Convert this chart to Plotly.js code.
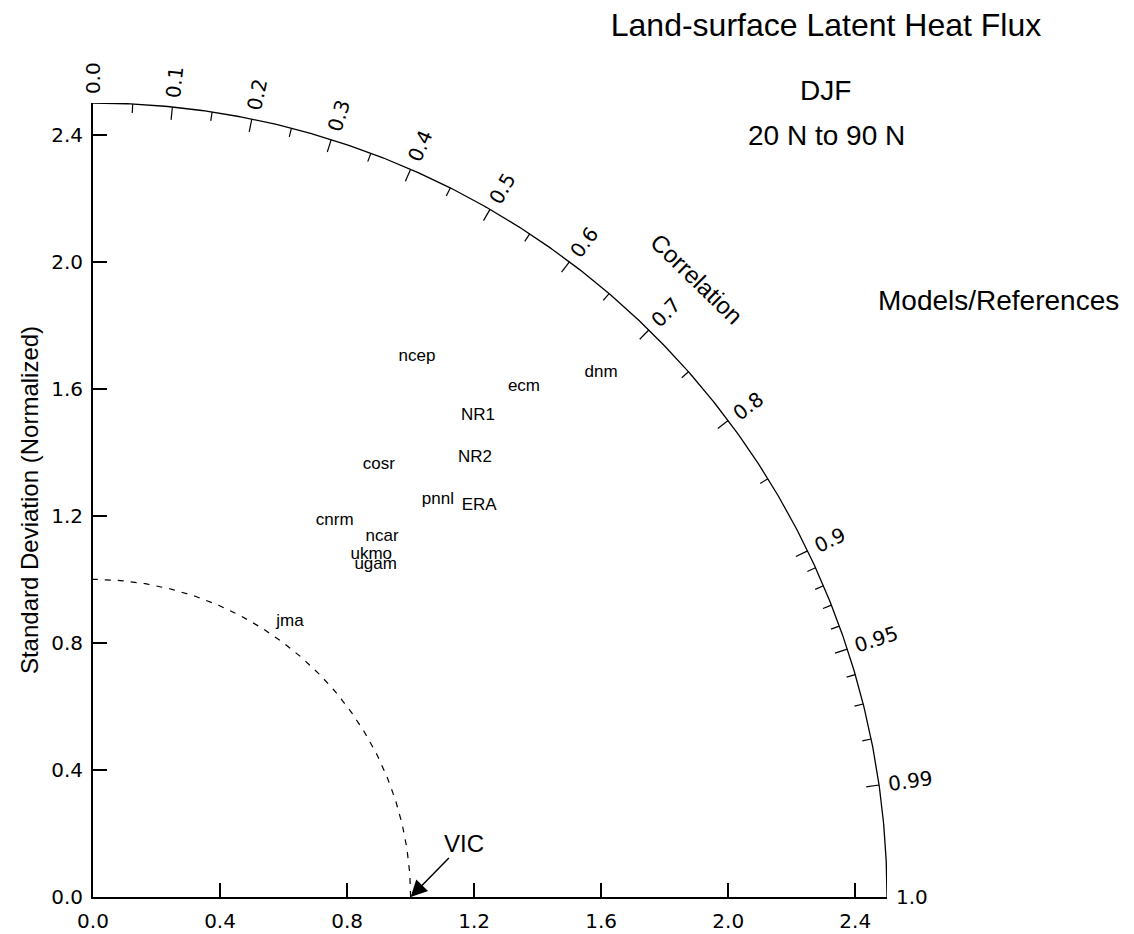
<!DOCTYPE html>
<html>
<head>
<meta charset="utf-8">
<script src="https://cdn.plot.ly/plotly-3.0.1.min.js"></script>
<style>html,body{margin:0;padding:0;background:#fff;}</style>
</head>
<body>
<div id="chart" style="width:1134px;height:934px;"></div>
<script>
// ---- data ----
const modelNames = ['ncep','dnm','ecm','NR1','NR2','cosr','pnnl','ERA','cnrm','ncar','ukmo','ugam','jma'];
const modelX     = [1.020, 1.600, 1.357, 1.212, 1.203, 0.900, 1.086, 1.216, 0.761, 0.910, 0.876, 0.890, 0.620];
const modelY     = [1.700, 1.650, 1.606, 1.515, 1.382, 1.360, 1.250, 1.231, 1.184, 1.134, 1.077, 1.046, 0.866];
const refName = 'VIC';
const refStd = 1.0;
const stdTickVals = [0.0, 0.4, 0.8, 1.2, 1.6, 2.0, 2.4];
const stdTickText = ['0.0','0.4','0.8','1.2','1.6','2.0','2.4'];
const corrLabelVals = [0.0,0.1,0.2,0.3,0.4,0.5,0.6,0.7,0.8,0.9,0.95,0.99,1.0];
const corrLabelText = ['0.0','0.1','0.2','0.3','0.4','0.5','0.6','0.7','0.8','0.9','0.95','0.99','1.0'];
const corrMajorTicks = [0.1,0.2,0.3,0.4,0.5,0.6,0.7,0.8,0.9,0.95,0.99];
const corrMinorTicks = [0.05,0.15,0.25,0.35,0.45,0.55,0.65,0.75,0.85,0.91,0.92,0.93,0.94,0.96,0.97,0.98];
const maxStd = 2.5;

// ---- geometry helpers ----
const L = 93, R = 247, T = 103, B = 37, W = 1134, H = 934;
const pxPerUnit = (W - L - R) / maxStd;
function arc(r, n) {
  const xs = [], ys = [];
  for (let i = 0; i <= n; i++) {
    const t = (Math.PI / 2) * i / n;
    xs.push(r * Math.cos(t)); ys.push(r * Math.sin(t));
  }
  return {x: xs, y: ys};
}
function ticks(vals, lenPx) {
  const xs = [], ys = [];
  const l = lenPx / pxPerUnit;
  vals.forEach(c => {
    const s = Math.sqrt(1 - c * c);
    xs.push(maxStd * c, (maxStd - l) * c, null);
    ys.push(maxStd * s, (maxStd - l) * s, null);
  });
  return {x: xs, y: ys};
}
const outer = arc(maxStd, 400);
const inner = arc(refStd, 200);
const majT = ticks(corrMajorTicks, 13);
const minT = ticks(corrMinorTicks, 9);

const numSize = 20;
const numFont = {family: 'DejaVu Sans', size: numSize, color: '#000'};
const textFamily = 'Liberation Sans, Arial, sans-serif';
const annotations = [];
// data -> paper (annotations outside the axis range would be hidden in data coords)
function toPaper(x, y) { return {x: x / maxStd, y: y / maxStd}; }

corrLabelVals.forEach((c, i) => {
  const txt = corrLabelText[i];
  const half = (txt.length - 1) * 0.636 * numSize / 2 + 0.318 * numSize / 2;
  const r = (794 + 9 + half) / pxPerUnit;
  const ang = Math.acos(c);
  const p = toPaper(r * Math.cos(ang), r * Math.sin(ang));
  annotations.push({
    x: p.x, y: p.y, xref: 'paper', yref: 'paper',
    text: txt, showarrow: false, textangle: -ang * 180 / Math.PI,
    xanchor: 'center', yanchor: 'middle', font: numFont
  });
});
// Correlation axis label
const corrLabR = 2.72, corrLabAngDeg = 45.7;
const cp = toPaper(corrLabR * Math.cos(corrLabAngDeg * Math.PI / 180), corrLabR * Math.sin(corrLabAngDeg * Math.PI / 180));
annotations.push({
  x: cp.x, y: cp.y, xref: 'paper', yref: 'paper',
  text: 'Correlation', showarrow: false, textangle: 90 - corrLabAngDeg,
  xanchor: 'center', yanchor: 'middle',
  font: {family: textFamily, size: 24, color: '#000'}
});
// Reference point arrow
annotations.push({
  x: refStd, y: 0, xref: 'x', yref: 'y', text: refName,
  showarrow: true, ax: 53, ay: -54, arrowhead: 2, arrowsize: 2.2, arrowwidth: 1.5,
  arrowcolor: '#000', standoff: 0,
  font: {family: textFamily, size: 24, color: '#000'}
});
// side texts (positions given in figure pixels, converted to paper)
const sideFont = {family: textFamily, size: 28, color: '#000'};
function figToPaper(px, py) { return {x: (px - L) / (W - L - R), y: 1 - (py - T) / (H - T - B)}; }
[[825, 90, 'DJF'], [826, 136, '20 N to 90 N'], [998, 300, 'Models/References']].forEach(s => {
  const p = figToPaper(s[0], s[1]);
  annotations.push({x: p.x, y: p.y, xref: 'paper', yref: 'paper', text: s[2], showarrow: false,
                    xanchor: 'center', yanchor: 'middle', font: sideFont});
});

const traces = [
  {x: outer.x, y: outer.y, mode: 'lines', line: {color: '#000', width: 1.3}, cliponaxis: false, hoverinfo: 'skip'},
  {x: inner.x, y: inner.y, mode: 'lines', line: {color: '#000', width: 1.2, dash: '6px,7px'}, cliponaxis: false, hoverinfo: 'skip'},
  {x: majT.x, y: majT.y, mode: 'lines', line: {color: '#000', width: 1.2}, cliponaxis: false, hoverinfo: 'skip'},
  {x: minT.x, y: minT.y, mode: 'lines', line: {color: '#000', width: 1.2}, cliponaxis: false, hoverinfo: 'skip'},
  {x: modelX, y: modelY, text: modelNames, mode: 'text', textposition: 'middle center',
   textfont: {family: textFamily, size: 17, color: '#000'}, cliponaxis: false}
];

const layout = {
  width: W, height: H, showlegend: false,
  paper_bgcolor: '#fff', plot_bgcolor: '#fff',
  margin: {l: L, r: R, t: T, b: B, pad: 0},
  title: {text: 'Land-surface Latent Heat Flux', xref: 'paper', x: (826 - L) / (W - L - R), xanchor: 'center',
          yref: 'container', y: 1 - 25 / H, yanchor: 'middle',
          font: {family: textFamily, size: 32, color: '#000'}},
  xaxis: {range: [0, maxStd], tickvals: stdTickVals, ticktext: stdTickText, ticks: 'inside', ticklen: 14,
          tickwidth: 1.5, tickcolor: '#000', showline: true, linecolor: '#000', linewidth: 2,
          showgrid: false, zeroline: false, tickfont: numFont, ticklabelstandoff: 5, fixedrange: true},
  yaxis: {range: [0, maxStd], tickvals: stdTickVals, ticktext: stdTickText, ticks: 'inside', ticklen: 14,
          tickwidth: 1.5, tickcolor: '#000', showline: true, linecolor: '#000', linewidth: 2,
          showgrid: false, zeroline: false, tickfont: numFont, ticklabelstandoff: 4, fixedrange: true,
          title: {text: 'Standard Deviation (Normalized)', standoff: 6,
                  font: {family: textFamily, size: 24, color: '#000'}}},
  annotations: annotations
};
Plotly.newPlot('chart', traces, layout, {staticPlot: true, displayModeBar: false});
</script>
</body>
</html>
